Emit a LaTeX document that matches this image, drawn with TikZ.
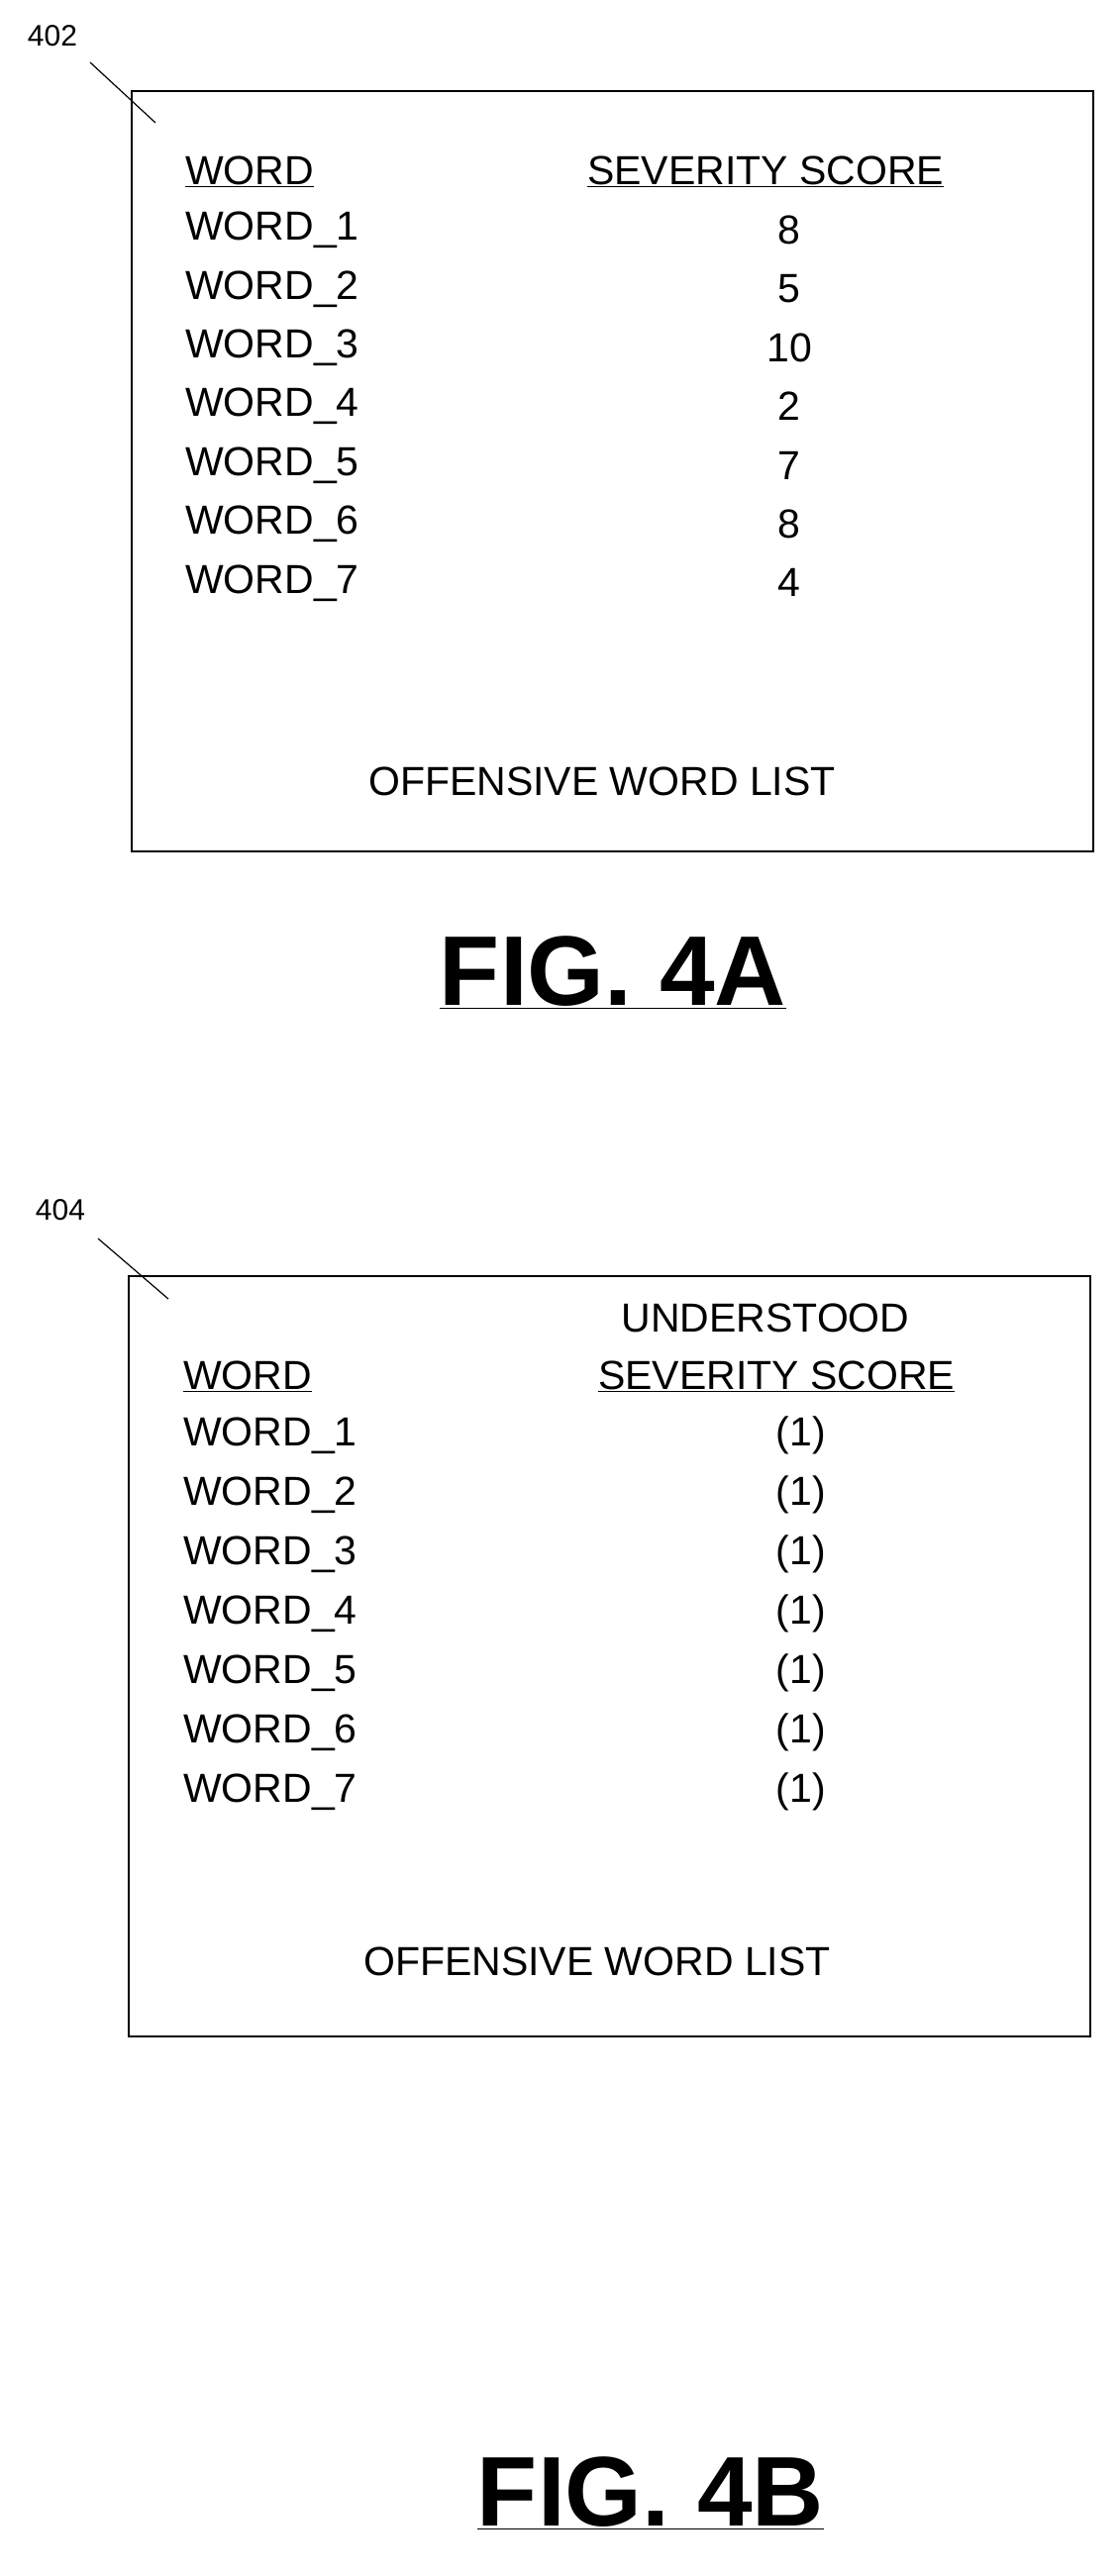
\documentclass[tikz,border=0pt]{standalone}
\usepackage{fontspec}
\setmainfont{Liberation Sans}
\begin{document}
\begin{tikzpicture}[x=1pt,y=-1pt,
 t/.style={font=\fontsize{41}{46}\selectfont, inner sep=0pt},
 lbl/.style={font=\fontsize{30}{34}\selectfont, inner sep=0pt},
 fig/.style={font=\fontsize{100}{110}\selectfont\bfseries, inner sep=0pt},
 box/.style={draw, line width=1.5pt}]
\useasboundingbox (0,0) rectangle (1131,2602);
% Fig 4A
\node[box, minimum width=971pt, minimum height=768pt, anchor=north west] (boxA) at (132,91) {};
\node[lbl] (l402) at (53,36) {402};
\coordinate (a1) at (91,63);
\draw[line width=1.2pt] (a1) -- (157,124);
\node[t, anchor=west] (wA) at (187,173) {\underline{WORD}};
\node[t] (sA) at (773,173) {\underline{SEVERITY SCORE}};
\foreach \w/\v [count=\i] in {1/8,2/5,3/10,4/2,5/7,6/8,7/4}{
  \node[t, anchor=west] (aw\i) at (187,{173+59.4*\i}) {WORD\_\w};
  \node[t] (av\i) at (797,{173+59.4*\i}) {\v};
}
\node[t] (oA) at (608,789) {OFFENSIVE WORD LIST};
\node[fig] (fA) at (619,982) {\underline{FIG. 4A}};
% Fig 4B
\node[box, minimum width=971pt, minimum height=768pt, anchor=north west] (boxB) at (129,1288) {};
\node[lbl] (l404) at (61,1222) {404};
\coordinate (b1) at (99,1251);
\draw[line width=1.2pt] (b1) -- (170,1312);
\node[t] (uB) at (773,1331) {UNDERSTOOD};
\node[t, anchor=west] (wB) at (185,1390) {\underline{WORD}};
\node[t] (sB) at (784,1390) {\underline{SEVERITY SCORE}};
\foreach \w [count=\i] in {1,...,7}{
  \node[t, anchor=west] (bw\i) at (185,{1390+60*\i}) {WORD\_\w};
  \node[t] (bv\i) at (809,{1390+60*\i}) {(1)};
}
\node[t] (oB) at (603,1981) {OFFENSIVE WORD LIST};
\node[fig] (fB) at (657,2518) {\underline{FIG. 4B}};
\end{tikzpicture}
\end{document}
